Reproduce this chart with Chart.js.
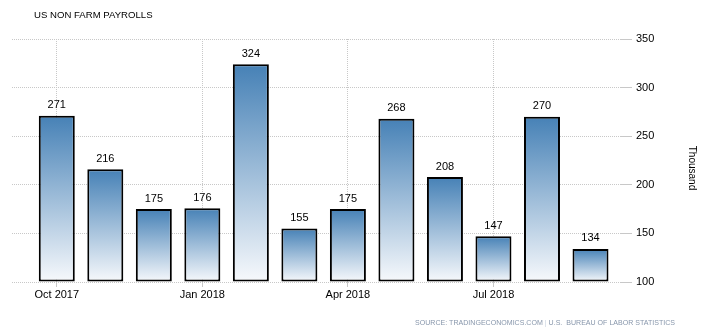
<!DOCTYPE html>
<html lang="en">
<head>
    <meta charset="UTF-8">
    <title>US Non Farm Payrolls</title>
    <script src="https://cdn.jsdelivr.net/npm/chart.js"></script>
    <style>
        body {
            margin: 0;
            background-color: #fff;
        }
        .chart-container {
            position: relative;
            width: 706px;
            height: 333px;
        }
    </style>
</head>
<body>
    <div class="chart-container">
        <canvas id="payrollsChart"></canvas>
    </div>

    <script>
        const months = ['Oct 2017', 'Nov 2017', 'Dec 2017', 'Jan 2018', 'Feb 2018', 'Mar 2018',
                        'Apr 2018', 'May 2018', 'Jun 2018', 'Jul 2018', 'Aug 2018', 'Sep 2018'];
        const payrolls = [271, 216, 175, 176, 324, 155, 175, 268, 208, 147, 270, 134];
        const tickMonths = [0, 3, 6, 9];
        const yTicks = [100, 150, 200, 250, 300, 350];

        const FONT = "'Liberation Sans', Arial, sans-serif";

        function barGradient(c) {
            const chart = c.chart;
            if (!chart.chartArea || c.type !== 'data') return '#7aa3cc';
            const y = chart.scales.y;
            const top = y.getPixelForValue(c.raw.y);
            const bottom = y.getPixelForValue(100);
            const g = chart.ctx.createLinearGradient(0, top, 0, bottom);
            g.addColorStop(0, '#4681b6');
            g.addColorStop(1, '#f7f9fc');
            return g;
        }

        // labels above bars, title, source line and unit
        const extras = {
            id: 'extras',
            afterDatasetsDraw(chart) {
                const ctx = chart.ctx;
                const meta = chart.getDatasetMeta(0);
                ctx.save();
                ctx.fillStyle = '#000';
                ctx.font = '11px ' + FONT;
                ctx.textAlign = 'center';
                ctx.textBaseline = 'bottom';
                meta.data.forEach((bar, i) => {
                    ctx.fillText(payrolls[i], bar.x, bar.y - 5);
                });

                ctx.textAlign = 'left';
                ctx.textBaseline = 'middle';
                ctx.font = '9.6px ' + FONT;
                ctx.fillStyle = '#000';
                ctx.fillText('US NON FARM PAYROLLS', 34, 15);

                // source line squeezed to the reference width
                const part1 = 'SOURCE: TRADINGECONOMICS.COM ';
                const part2 = '| ';
                const part3 = 'U.S.  BUREAU OF LABOR STATISTICS';
                ctx.font = '8px ' + FONT;
                const full = ctx.measureText(part1 + part2 + part3).width;
                ctx.save();
                ctx.translate(415, 323);
                ctx.scale(260 / full, 1);
                ctx.fillStyle = '#8796ab';
                ctx.fillText(part1, 0, 0);
                let w = ctx.measureText(part1).width;
                ctx.fillStyle = '#c9d3df';
                ctx.fillText(part2, w, 0);
                w += ctx.measureText(part2).width;
                ctx.fillStyle = '#8796ab';
                ctx.fillText(part3, w, 0);
                ctx.restore();

                ctx.translate(692, 168);
                ctx.rotate(Math.PI / 2);
                ctx.textAlign = 'center';
                ctx.font = '10px ' + FONT;
                ctx.fillStyle = '#000';
                ctx.fillText('Thousand', 0, 0);
                ctx.restore();
            }
        };

        new Chart(document.getElementById('payrollsChart'), {
            type: 'bar',
            data: {
                datasets: [{
                    data: payrolls.map((v, i) => ({ x: i, y: v })),
                    base: 100,
                    backgroundColor: barGradient,
                    borderColor: '#000',
                    borderWidth: 2,
                    borderSkipped: false,
                    barPercentage: 0.742,
                    categoryPercentage: 1
                }]
            },
            options: {
                responsive: true,
                maintainAspectRatio: false,
                animation: false,
                layout: { padding: { left: 12, top: 39, right: 0, bottom: 0 } },
                plugins: {
                    legend: { display: false },
                    tooltip: { enabled: false }
                },
                scales: {
                    x: {
                        type: 'linear',
                        offset: false,
                        min: -0.923,
                        max: 11.608,
                        afterBuildTicks: (scale) => {
                            scale.ticks = tickMonths.map(v => ({ value: v }));
                        },
                        afterFit: (scale) => { scale.height = 51; },
                        ticks: {
                            callback: (v) => months[v],
                            color: '#000',
                            font: { family: FONT, size: 11 },
                            padding: 1,
                            maxRotation: 0,
                            autoSkip: false
                        },
                        grid: {
                            offset: false,
                            color: '#c8c8c8',
                            tickLength: 5
                        },
                        border: { display: false, dash: [1, 1] }
                    },
                    y: {
                        position: 'right',
                        min: 100,
                        max: 350,
                        afterBuildTicks: (scale) => {
                            scale.ticks = yTicks.map(v => ({ value: v }));
                        },
                        afterFit: (scale) => { scale.width = 86; },
                        ticks: {
                            color: '#000',
                            font: { family: FONT, size: 11 },
                            padding: 4
                        },
                        grid: {
                            color: '#c8c8c8',
                            tickLength: 12
                        },
                        border: { display: false, dash: [1, 1] }
                    }
                }
            },
            plugins: [extras]
        });
    </script>
</body>
</html>
